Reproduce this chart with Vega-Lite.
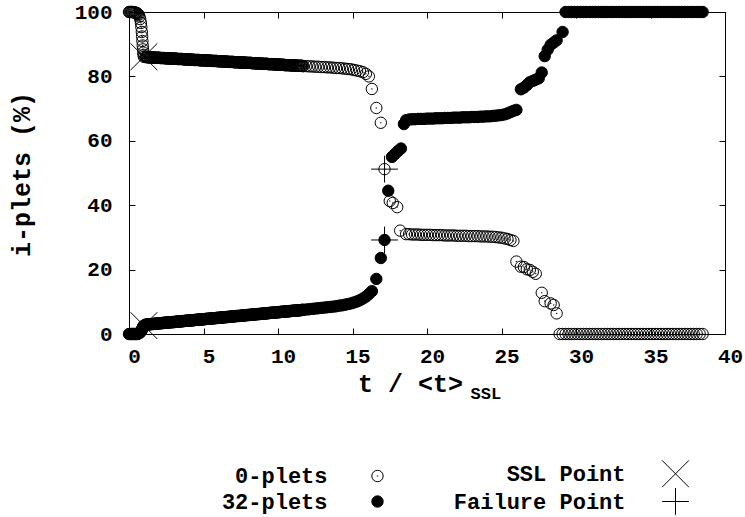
{
  "$schema": "https://vega.github.io/schema/vega-lite/v6.json",
  "width": 596,
  "height": 322,
  "autosize": {"type": "none"},
  "padding": {"left": 129, "top": 12, "right": 20, "bottom": 183},
  "background": "white",
  "config": {
    "view": {"stroke": "black", "strokeWidth": 1},
    "font": "Liberation Mono",
    "axis": {
      "grid": false,
      "domainColor": "black",
      "domainWidth": 1,
      "tickColor": "black",
      "tickWidth": 1,
      "tickSize": -6,
      "labelColor": "black",
      "labelFont": "Liberation Mono",
      "labelFontWeight": "bold",
      "labelFontSize": 21,
      "labelFlush": false,
      "titleColor": "black",
      "titleFont": "Liberation Mono",
      "titleFontWeight": "bold",
      "titleFontSize": 25
    }
  },
  "datasets": {
    "plets": [
      {"t":0,"z":100,"f":0},{"t":0.05,"z":100,"f":0},{"t":0.1,"z":100,"f":0},{"t":0.15,"z":100,"f":0},
      {"t":0.2,"z":100,"f":0},{"t":0.25,"z":100,"f":0},{"t":0.3,"z":99.9,"f":0},{"t":0.35,"z":99.9,"f":0},
      {"t":0.4,"z":99.8,"f":0},{"t":0.45,"z":99.8,"f":0},{"t":0.5,"z":99.7,"f":0},{"t":0.55,"z":99.6,"f":0},
      {"t":0.6,"z":99.4,"f":0.1},{"t":0.65,"z":99.1,"f":0.2},{"t":0.7,"z":98.6,"f":0.3},{"t":0.75,"z":97.8,"f":0.5},
      {"t":0.8,"z":96.6,"f":0.8},{"t":0.83,"z":95.3,"f":1.0},{"t":0.86,"z":93.8,"f":1.3},{"t":0.88,"z":92.4,"f":1.5},
      {"t":0.9,"z":91.0,"f":1.7},{"t":0.92,"z":89.6,"f":1.9},{"t":0.94,"z":88.4,"f":2.1},{"t":0.96,"z":87.4,"f":2.3},
      {"t":0.98,"z":86.7,"f":2.5},{"t":1.0,"z":86.1,"f":2.6},
      {"t":1.1,"z":86.0,"f":2.9},{"t":1.2,"z":86.0,"f":2.9},{"t":1.3,"z":85.9,"f":3.0},{"t":1.4,"z":85.9,"f":3.0},
      {"t":1.5,"z":85.9,"f":3.1},{"t":1.6,"z":85.9,"f":3.1},{"t":1.7,"z":85.8,"f":3.2},{"t":1.8,"z":85.8,"f":3.2},
      {"t":1.9,"z":85.8,"f":3.2},{"t":2.0,"z":85.8,"f":3.3},{"t":2.1,"z":85.7,"f":3.3},{"t":2.2,"z":85.7,"f":3.4},
      {"t":2.3,"z":85.7,"f":3.4},{"t":2.4,"z":85.7,"f":3.5},{"t":2.5,"z":85.6,"f":3.5},{"t":2.6,"z":85.6,"f":3.6},
      {"t":2.7,"z":85.6,"f":3.6},{"t":2.8,"z":85.6,"f":3.6},{"t":2.9,"z":85.5,"f":3.7},{"t":3.0,"z":85.5,"f":3.7},
      {"t":3.1,"z":85.5,"f":3.8},{"t":3.2,"z":85.5,"f":3.8},{"t":3.3,"z":85.4,"f":3.9},{"t":3.4,"z":85.4,"f":3.9},
      {"t":3.5,"z":85.4,"f":3.9},{"t":3.6,"z":85.4,"f":4.0},{"t":3.7,"z":85.3,"f":4.0},{"t":3.8,"z":85.3,"f":4.1},
      {"t":3.9,"z":85.3,"f":4.1},{"t":4.0,"z":85.2,"f":4.2},{"t":4.1,"z":85.2,"f":4.2},{"t":4.2,"z":85.2,"f":4.2},
      {"t":4.3,"z":85.2,"f":4.3},{"t":4.4,"z":85.1,"f":4.3},{"t":4.5,"z":85.1,"f":4.4},{"t":4.6,"z":85.1,"f":4.4},
      {"t":4.7,"z":85.1,"f":4.5},{"t":4.8,"z":85.0,"f":4.5},{"t":4.9,"z":85.0,"f":4.5},{"t":5.0,"z":85.0,"f":4.6},
      {"t":5.1,"z":85.0,"f":4.6},{"t":5.2,"z":84.9,"f":4.7},{"t":5.3,"z":84.9,"f":4.7},{"t":5.4,"z":84.9,"f":4.8},
      {"t":5.5,"z":84.9,"f":4.8},{"t":5.6,"z":84.8,"f":4.9},{"t":5.7,"z":84.8,"f":4.9},{"t":5.8,"z":84.8,"f":4.9},
      {"t":5.9,"z":84.8,"f":5.0},{"t":6.0,"z":84.7,"f":5.0},{"t":6.1,"z":84.7,"f":5.1},{"t":6.2,"z":84.7,"f":5.1},
      {"t":6.3,"z":84.6,"f":5.2},{"t":6.4,"z":84.6,"f":5.2},{"t":6.5,"z":84.6,"f":5.2},{"t":6.6,"z":84.6,"f":5.3},
      {"t":6.7,"z":84.5,"f":5.3},{"t":6.8,"z":84.5,"f":5.4},{"t":6.9,"z":84.5,"f":5.4},{"t":7.0,"z":84.5,"f":5.5},
      {"t":7.1,"z":84.4,"f":5.5},{"t":7.2,"z":84.4,"f":5.6},{"t":7.3,"z":84.4,"f":5.6},{"t":7.4,"z":84.4,"f":5.6},
      {"t":7.5,"z":84.3,"f":5.7},{"t":7.6,"z":84.3,"f":5.7},{"t":7.7,"z":84.3,"f":5.8},{"t":7.8,"z":84.3,"f":5.8},
      {"t":7.9,"z":84.2,"f":5.9},{"t":8.0,"z":84.2,"f":5.9},{"t":8.1,"z":84.2,"f":5.9},{"t":8.2,"z":84.2,"f":6.0},
      {"t":8.3,"z":84.1,"f":6.0},{"t":8.4,"z":84.1,"f":6.1},{"t":8.5,"z":84.1,"f":6.1},{"t":8.6,"z":84.0,"f":6.2},
      {"t":8.7,"z":84.0,"f":6.2},{"t":8.8,"z":84.0,"f":6.2},{"t":8.9,"z":84.0,"f":6.3},{"t":9.0,"z":83.9,"f":6.3},
      {"t":9.1,"z":83.9,"f":6.4},{"t":9.2,"z":83.9,"f":6.4},{"t":9.3,"z":83.9,"f":6.5},{"t":9.4,"z":83.8,"f":6.5},
      {"t":9.5,"z":83.8,"f":6.6},{"t":9.6,"z":83.8,"f":6.6},{"t":9.7,"z":83.8,"f":6.6},{"t":9.8,"z":83.7,"f":6.7},
      {"t":9.9,"z":83.7,"f":6.7},{"t":10.0,"z":83.7,"f":6.8},{"t":10.1,"z":83.7,"f":6.8},{"t":10.2,"z":83.6,"f":6.9},
      {"t":10.3,"z":83.6,"f":6.9},{"t":10.4,"z":83.6,"f":6.9},{"t":10.5,"z":83.5,"f":7.0},{"t":10.6,"z":83.5,"f":7.0},
      {"t":10.7,"z":83.5,"f":7.1},{"t":10.8,"z":83.5,"f":7.1},{"t":10.9,"z":83.4,"f":7.2},{"t":11.0,"z":83.4,"f":7.2},
      {"t":11.1,"z":83.4,"f":7.2},{"t":11.2,"z":83.4,"f":7.3},{"t":11.3,"z":83.3,"f":7.3},{"t":11.4,"z":83.3,"f":7.4},
      {"t":11.5,"z":83.3,"f":7.4},{"t":11.6,"z":83.3,"f":7.5},{"t":11.7,"z":83.2,"f":7.5},
      {"t":1.15,"z":86.0,"f":2.9},{"t":1.25,"z":86.0,"f":3.0},{"t":1.35,"z":85.9,"f":3.0},{"t":1.45,"z":85.9,"f":3.1},
      {"t":1.55,"z":85.9,"f":3.1},{"t":1.65,"z":85.9,"f":3.1},{"t":1.75,"z":85.8,"f":3.2},{"t":1.85,"z":85.8,"f":3.2},
      {"t":1.95,"z":85.8,"f":3.3},{"t":2.05,"z":85.8,"f":3.3},{"t":2.15,"z":85.7,"f":3.4},{"t":2.25,"z":85.7,"f":3.4},
      {"t":2.35,"z":85.7,"f":3.5},{"t":2.45,"z":85.6,"f":3.5},{"t":2.55,"z":85.6,"f":3.5},{"t":2.65,"z":85.6,"f":3.6},
      {"t":2.75,"z":85.6,"f":3.6},{"t":2.85,"z":85.5,"f":3.7},{"t":2.95,"z":85.5,"f":3.7},{"t":3.05,"z":85.5,"f":3.7},
      {"t":3.15,"z":85.5,"f":3.8},{"t":3.25,"z":85.4,"f":3.8},{"t":3.35,"z":85.4,"f":3.9},{"t":3.45,"z":85.4,"f":3.9},
      {"t":3.55,"z":85.4,"f":4.0},{"t":3.65,"z":85.3,"f":4.0},{"t":3.75,"z":85.3,"f":4.1},{"t":3.85,"z":85.3,"f":4.1},
      {"t":3.95,"z":85.3,"f":4.1},{"t":4.05,"z":85.2,"f":4.2},{"t":4.15,"z":85.2,"f":4.2},{"t":4.25,"z":85.2,"f":4.3},
      {"t":4.35,"z":85.1,"f":4.3},{"t":4.45,"z":85.1,"f":4.4},{"t":4.55,"z":85.1,"f":4.4},{"t":4.65,"z":85.1,"f":4.4},
      {"t":4.75,"z":85.0,"f":4.5},{"t":4.85,"z":85.0,"f":4.5},{"t":4.95,"z":85.0,"f":4.6},{"t":5.05,"z":85.0,"f":4.6},
      {"t":5.15,"z":84.9,"f":4.7},{"t":5.25,"z":84.9,"f":4.7},{"t":5.35,"z":84.9,"f":4.7},{"t":5.45,"z":84.9,"f":4.8},
      {"t":5.55,"z":84.8,"f":4.8},{"t":5.65,"z":84.8,"f":4.9},{"t":5.75,"z":84.8,"f":4.9},{"t":5.85,"z":84.8,"f":5.0},
      {"t":5.95,"z":84.7,"f":5.0},{"t":6.05,"z":84.7,"f":5.0},{"t":6.15,"z":84.7,"f":5.1},{"t":6.25,"z":84.7,"f":5.1},
      {"t":6.35,"z":84.6,"f":5.2},{"t":6.45,"z":84.6,"f":5.2},{"t":6.55,"z":84.6,"f":5.3},{"t":6.65,"z":84.5,"f":5.3},
      {"t":6.75,"z":84.5,"f":5.3},{"t":6.85,"z":84.5,"f":5.4},{"t":6.95,"z":84.5,"f":5.4},{"t":7.05,"z":84.4,"f":5.5},
      {"t":7.15,"z":84.4,"f":5.5},{"t":7.25,"z":84.4,"f":5.6},{"t":7.35,"z":84.4,"f":5.6},{"t":7.45,"z":84.3,"f":5.6},
      {"t":7.55,"z":84.3,"f":5.7},{"t":7.65,"z":84.3,"f":5.7},{"t":7.75,"z":84.3,"f":5.8},{"t":7.85,"z":84.2,"f":5.8},
      {"t":7.95,"z":84.2,"f":5.9},{"t":8.05,"z":84.2,"f":5.9},{"t":8.15,"z":84.2,"f":6.0},{"t":8.25,"z":84.1,"f":6.0},
      {"t":8.35,"z":84.1,"f":6.0},{"t":8.45,"z":84.1,"f":6.1},{"t":8.55,"z":84.0,"f":6.1},{"t":8.65,"z":84.0,"f":6.2},
      {"t":8.75,"z":84.0,"f":6.2},{"t":8.85,"z":84.0,"f":6.3},{"t":8.95,"z":83.9,"f":6.3},{"t":9.05,"z":83.9,"f":6.3},
      {"t":9.15,"z":83.9,"f":6.4},{"t":9.25,"z":83.9,"f":6.4},{"t":9.35,"z":83.8,"f":6.5},{"t":9.45,"z":83.8,"f":6.5},
      {"t":9.55,"z":83.8,"f":6.6},{"t":9.65,"z":83.8,"f":6.6},{"t":9.75,"z":83.7,"f":6.7},{"t":9.85,"z":83.7,"f":6.7},
      {"t":9.95,"z":83.7,"f":6.7},{"t":10.05,"z":83.7,"f":6.8},{"t":10.15,"z":83.6,"f":6.8},{"t":10.25,"z":83.6,"f":6.9},
      {"t":10.35,"z":83.6,"f":6.9},{"t":10.45,"z":83.5,"f":7.0},{"t":10.55,"z":83.5,"f":7.0},{"t":10.65,"z":83.5,"f":7.0},
      {"t":10.75,"z":83.5,"f":7.1},{"t":10.85,"z":83.4,"f":7.1},{"t":10.95,"z":83.4,"f":7.2},{"t":11.05,"z":83.4,"f":7.2},
      {"t":11.15,"z":83.4,"f":7.3},{"t":11.25,"z":83.3,"f":7.3},{"t":11.35,"z":83.3,"f":7.3},{"t":11.45,"z":83.3,"f":7.4},
      {"t":11.55,"z":83.3,"f":7.4},{"t":11.65,"z":83.2,"f":7.5},
      {"t":11.9,"z":83.2,"f":7.6},{"t":12.1,"z":83.1,"f":7.7},{"t":12.3,"z":83.1,"f":7.8},{"t":12.5,"z":83.0,"f":7.9},
      {"t":12.7,"z":83.0,"f":8.0},{"t":12.9,"z":82.9,"f":8.1},{"t":13.1,"z":82.9,"f":8.2},{"t":13.3,"z":82.8,"f":8.3},
      {"t":13.5,"z":82.8,"f":8.4},{"t":13.7,"z":82.7,"f":8.5},{"t":13.9,"z":82.6,"f":8.6},{"t":14.1,"z":82.6,"f":8.8},
      {"t":14.3,"z":82.5,"f":8.9},{"t":14.5,"z":82.4,"f":9.1},{"t":14.7,"z":82.3,"f":9.3},{"t":14.9,"z":82.2,"f":9.5},
      {"t":15.1,"z":82.0,"f":9.8},{"t":15.3,"z":81.8,"f":10.1},{"t":15.5,"z":81.6,"f":10.5},{"t":15.7,"z":81.3,"f":11.0},
      {"t":15.9,"z":80.8,"f":11.6},{"t":16.1,"z":80.0,"f":12.4},
      {"t":16.3,"z":76.1,"f":13.3},{"t":16.6,"z":70.2,"f":17.1},{"t":16.9,"z":65.6,"f":23.6},{"t":17.15,"z":51.2,"f":29.2},
      {"t":17.4,"z":null,"f":44.5},{"t":17.5,"z":41.3,"f":null},{"t":17.65,"z":null,"f":55.0},{"t":17.7,"z":40.7,"f":null},
      {"t":17.85,"z":null,"f":55.9},{"t":18.0,"z":39.4,"f":null},{"t":18.05,"z":null,"f":56.8},{"t":18.2,"z":32.1,"f":null},
      {"t":18.25,"z":null,"f":57.6},{"t":18.45,"z":null,"f":65.2},
      {"t":18.6,"z":31.0,"f":66.4},{"t":18.8,"z":31.0,"f":66.6},{"t":19.0,"z":30.9,"f":66.7},{"t":19.2,"z":30.9,"f":66.7},
      {"t":19.4,"z":30.9,"f":66.8},{"t":19.6,"z":30.8,"f":66.8},{"t":19.8,"z":30.8,"f":66.8},{"t":20.0,"z":30.8,"f":66.9},
      {"t":20.2,"z":30.8,"f":66.9},{"t":20.4,"z":30.7,"f":66.9},{"t":20.6,"z":30.7,"f":67.0},{"t":20.8,"z":30.7,"f":67.0},
      {"t":21.0,"z":30.7,"f":67.0},{"t":21.2,"z":30.6,"f":67.1},{"t":21.4,"z":30.6,"f":67.1},{"t":21.6,"z":30.6,"f":67.1},
      {"t":21.8,"z":30.6,"f":67.2},{"t":22.0,"z":30.5,"f":67.2},{"t":22.2,"z":30.5,"f":67.2},{"t":22.4,"z":30.5,"f":67.3},
      {"t":22.6,"z":30.5,"f":67.3},{"t":22.8,"z":30.4,"f":67.3},{"t":23.0,"z":30.4,"f":67.4},{"t":23.2,"z":30.4,"f":67.4},
      {"t":23.4,"z":30.4,"f":67.4},{"t":23.6,"z":30.3,"f":67.5},{"t":23.8,"z":30.3,"f":67.5},{"t":24.0,"z":30.3,"f":67.6},
      {"t":24.2,"z":30.2,"f":67.6},{"t":24.4,"z":30.2,"f":67.7},{"t":24.6,"z":30.1,"f":67.8},{"t":24.8,"z":30.0,"f":67.9},
      {"t":25.0,"z":29.9,"f":68.0},{"t":25.2,"z":29.7,"f":68.2},{"t":25.4,"z":29.5,"f":68.5},{"t":25.6,"z":29.2,"f":68.9},
      {"t":25.8,"z":28.9,"f":69.3},{"t":26.0,"z":22.5,"f":69.6},{"t":26.3,"z":20.9,"f":76.0},{"t":26.5,"z":20.8,"f":76.5},
      {"t":26.7,"z":20.1,"f":77.3},{"t":26.9,"z":19.9,"f":78.2},{"t":27.1,"z":19.3,"f":78.6},{"t":27.3,"z":18.7,"f":79.0},
      {"t":27.5,"z":null,"f":79.4},{"t":27.7,"z":12.8,"f":81.2},{"t":27.9,"z":10.2,"f":86.3},{"t":28.1,"z":null,"f":88.3},
      {"t":28.3,"z":9.5,"f":89.8},{"t":28.5,"z":9.0,"f":90.5},{"t":28.7,"z":6.4,"f":91.2},{"t":28.9,"z":0,"f":null},
      {"t":29.1,"z":0,"f":93.8},{"t":29.3,"z":0,"f":100},{"t":29.5,"z":0,"f":100},{"t":29.7,"z":0,"f":100},
      {"t":29.9,"z":0,"f":100},{"t":30.1,"z":0,"f":100},{"t":30.3,"z":0,"f":100},{"t":30.5,"z":0,"f":100},
      {"t":30.7,"z":0,"f":100},{"t":30.9,"z":0,"f":100},{"t":31.1,"z":0,"f":100},{"t":31.3,"z":0,"f":100},
      {"t":31.5,"z":0,"f":100},{"t":31.7,"z":0,"f":100},{"t":31.9,"z":0,"f":100},{"t":32.1,"z":0,"f":100},
      {"t":32.3,"z":0,"f":100},{"t":32.5,"z":0,"f":100},{"t":32.7,"z":0,"f":100},{"t":32.9,"z":0,"f":100},
      {"t":33.1,"z":0,"f":100},{"t":33.3,"z":0,"f":100},{"t":33.5,"z":0,"f":100},{"t":33.7,"z":0,"f":100},
      {"t":33.9,"z":0,"f":100},{"t":34.1,"z":0,"f":100},{"t":34.3,"z":0,"f":100},{"t":34.5,"z":0,"f":100},
      {"t":34.7,"z":0,"f":100},{"t":34.9,"z":0,"f":100},{"t":35.1,"z":0,"f":100},{"t":35.3,"z":0,"f":100},
      {"t":35.5,"z":0,"f":100},{"t":35.7,"z":0,"f":100},{"t":35.9,"z":0,"f":100},{"t":36.1,"z":0,"f":100},
      {"t":36.3,"z":0,"f":100},{"t":36.5,"z":0,"f":100},{"t":36.7,"z":0,"f":100},{"t":36.9,"z":0,"f":100},
      {"t":37.1,"z":0,"f":100},{"t":37.3,"z":0,"f":100},{"t":37.5,"z":0,"f":100},{"t":37.7,"z":0,"f":100},
      {"t":37.9,"z":0,"f":100},{"t":38.1,"z":0,"f":100},{"t":38.3,"z":0,"f":100},{"t":38.5,"z":0,"f":100}
    ],
    "ssl": [{"t":1.0,"v":86.1},{"t":1.0,"v":2.6}],
    "failure": [{"t":17.15,"v":51.2},{"t":17.15,"v":29.2}]
  },
  "resolve": {"axis": {"x": "independent", "y": "independent"}},
  "layer": [
    {
      "data": {"name": "plets"},
      "mark": {"type": "point", "filled": true, "stroke": "black", "strokeWidth": 1, "opacity": 1},
      "encoding": {
        "x": {
          "field": "t", "type": "quantitative",
          "scale": {"domain": [0, 40], "nice": false, "zero": false},
          "axis": {
            "orient": "bottom", "values": [0, 5, 10, 15, 20, 25, 30, 35, 40],
            "labelPadding": 17, "labelOffset": 5,
            "title": "t / <t>", "titleX": 281, "titleY": 57,
            "titleAlign": "center", "titleBaseline": "alphabetic"
          }
        },
        "y": {
          "field": "z", "type": "quantitative",
          "scale": {"domain": [0, 100], "nice": false},
          "axis": {
            "orient": "left", "values": [0, 20, 40, 60, 80, 100],
            "labelPadding": 23,
            "title": "i-plets (%)", "titleX": -95, "titleY": 162, "titleAngle": 270,
            "titleAlign": "center", "titleBaseline": "bottom"
          }
        },
        "shape": {
          "datum": "0-plets", "type": "nominal",
          "scale": {
            "domain": ["0-plets", "32-plets", "SSL Point", "Failure Point"],
            "range": [
              "M-1,0A1,1,0,1,0,1,0A1,1,0,1,0,-1,0ZM-0.12,0L0.12,0",
              "circle",
              "M-2.35,-2.35L2.35,2.35M-2.35,2.35L2.35,-2.35",
              "M-2.35,0L2.35,0M0,-2.35L0,2.35"
            ]
          },
          "legend": {
            "title": null, "orient": "none", "legendX": 237.5, "legendY": 450.5,
            "columns": 2, "padding": 0, "rowPadding": -4, "columnPadding": 68,
            "labelFont": "Liberation Mono", "labelFontWeight": "bold", "labelFontSize": 22,
            "labelColor": "black", "labelAlign": "right", "labelOffset": -61, "labelLimit": 0,
            "symbolStrokeColor": "black", "symbolStrokeWidth": 1, "symbolOpacity": 1
          }
        },
        "fill": {
          "datum": "0-plets", "type": "nominal",
          "scale": {
            "domain": ["0-plets", "32-plets", "SSL Point", "Failure Point"],
            "range": ["transparent", "black", "transparent", "transparent"]
          },
          "legend": {"title": null}
        },
        "size": {
          "datum": "0-plets", "type": "nominal",
          "scale": {
            "domain": ["0-plets", "32-plets", "SSL Point", "Failure Point"],
            "range": [130, 130]
          },
          "legend": {"title": null}
        }
      }
    },
    {
      "data": {"name": "plets"},
      "mark": {"type": "point", "filled": true, "stroke": "black", "strokeWidth": 1, "opacity": 1},
      "encoding": {
        "x": {
          "field": "t", "type": "quantitative",
          "axis": {
            "orient": "bottom", "labels": false, "ticks": false, "domain": false,
            "title": "SSL", "titleFontSize": 17, "titleX": 341, "titleY": 64,
            "titleAlign": "left", "titleBaseline": "alphabetic"
          }
        },
        "y": {"field": "f", "type": "quantitative", "axis": null},
        "shape": {"datum": "32-plets", "type": "nominal"},
        "fill": {"datum": "32-plets", "type": "nominal"},
        "size": {"datum": "32-plets", "type": "nominal"}
      }
    },
    {
      "data": {"name": "ssl"},
      "mark": {"type": "point", "filled": true, "stroke": "black", "strokeWidth": 1, "opacity": 1},
      "encoding": {
        "x": {"field": "t", "type": "quantitative", "axis": null},
        "y": {"field": "v", "type": "quantitative", "axis": null},
        "shape": {"datum": "SSL Point", "type": "nominal"},
        "fill": {"datum": "SSL Point", "type": "nominal"},
        "size": {"datum": "SSL Point", "type": "nominal"}
      }
    },
    {
      "data": {"name": "failure"},
      "mark": {"type": "point", "filled": true, "stroke": "black", "strokeWidth": 1, "opacity": 1},
      "encoding": {
        "x": {"field": "t", "type": "quantitative", "axis": null},
        "y": {"field": "v", "type": "quantitative", "axis": null},
        "shape": {"datum": "Failure Point", "type": "nominal"},
        "fill": {"datum": "Failure Point", "type": "nominal"},
        "size": {"datum": "Failure Point", "type": "nominal"}
      }
    },
    {
      "data": {"name": "ssl"},
      "mark": {"type": "point", "opacity": 0},
      "encoding": {
        "x": {
          "field": "t", "type": "quantitative",
          "axis": {"orient": "top", "labels": false, "title": null, "values": [0, 5, 10, 15, 20, 25, 30, 35, 40]}
        },
        "y": {
          "field": "v", "type": "quantitative",
          "axis": {"orient": "right", "labels": false, "title": null, "values": [0, 20, 40, 60, 80, 100]}
        }
      }
    }
  ]
}
